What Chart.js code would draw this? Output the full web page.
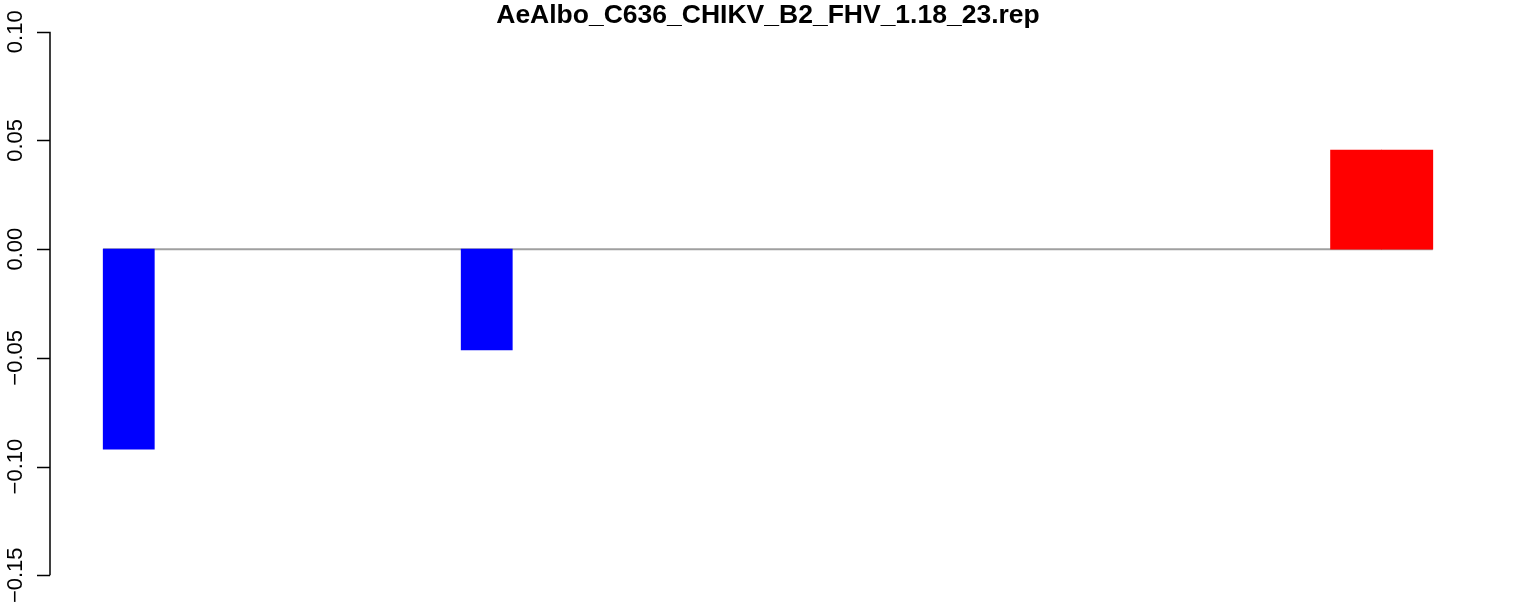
<!DOCTYPE html>
<html>
<head>
<meta charset="utf-8">
<script src="https://cdn.jsdelivr.net/npm/chart.js@4"></script>
<style>
  html, body { margin: 0; padding: 0; background: #ffffff; }
  #chart { display: block; }
</style>
</head>
<body>
<canvas id="chart" width="1536" height="609"></canvas>
<script>
// chart data
var chartTitle = "AeAlbo_C636_CHIKV_B2_FHV_1.18_23.rep";
var categories = ["1","2","3","4","5","6","7","8","9","10","11","12","13",
                  "14","15","16","17","18","19","20","21","22","23","24","25","26"];
var values = [-0.092, 0, 0, 0, 0, 0, 0, -0.0464, 0, 0, 0, 0, 0,
              0, 0, 0, 0, 0, 0, 0, 0, 0, 0, 0, 0.0456, 0.0456];
var yTicks = [-0.15, -0.10, -0.05, 0.00, 0.05, 0.10];
var yTickLabels = ["\u22120.15", "\u22120.10", "\u22120.05", "0.00", "0.05", "0.10"];

var FONT = "'Liberation Sans', Arial, Helvetica, sans-serif";

// bars: blue below zero, red above, nothing for zero
var barColors = values.map(function (v) {
    if (v === 0) return "rgba(0,0,0,0)";
    return v < 0 ? "#0000ff" : "#ff0000";
});
var barPoints = values.map(function (v, i) { return { x: i + 0.5, y: v }; });

// R-style left axis and title
var rAxis = {
    id: "rAxis",
    afterDraw: function (chart) {
        var ctx = chart.ctx;
        var y = chart.scales.y;
        var x0 = chart.chartArea.left;
        var top = y.getPixelForValue(yTicks[yTicks.length - 1]);
        var bot = y.getPixelForValue(yTicks[0]);
        ctx.save();
        ctx.strokeStyle = "#000000";
        ctx.lineWidth = 1.5;
        ctx.beginPath();
        ctx.moveTo(x0, top);
        ctx.lineTo(x0, bot);
        yTicks.forEach(function (t) {
            var py = Math.round(y.getPixelForValue(t)) + 0.5;
            ctx.moveTo(x0, py);
            ctx.lineTo(x0 - 13, py);
        });
        ctx.stroke();

        ctx.fillStyle = "#000000";
        ctx.font = "22px " + FONT;
        ctx.textAlign = "center";
        ctx.textBaseline = "alphabetic";
        yTicks.forEach(function (t, i) {
            var py = y.getPixelForValue(t);
            ctx.save();
            ctx.translate(x0 - 28, py);
            ctx.rotate(-Math.PI / 2);
            ctx.fillText(yTickLabels[i], 0, 0);
            ctx.restore();
        });

        ctx.font = "bold 26.5px " + FONT;
        ctx.fillText(chartTitle, (chart.chartArea.left + chart.chartArea.right) / 2, 23);
        ctx.restore();
    }
};

new Chart(document.getElementById("chart"), {
    type: "bar",
    data: {
        labels: categories,
        datasets: [{
            label: "values",
            data: barPoints,
            backgroundColor: barColors,
            borderWidth: 0,
            barPercentage: 1.0,
            categoryPercentage: 1.0,
            order: 1
        }, {
            type: "line",
            label: "zero",
            data: [{ x: 0, y: 0 }, { x: categories.length, y: 0 }],
            borderColor: "#a0a0a0",
            borderWidth: 2,
            pointRadius: 0,
            fill: false,
            order: 2
        }]
    },
    options: {
        responsive: false,
        animation: false,
        devicePixelRatio: 1,
        layout: { padding: { left: 50, right: 50, top: 10, bottom: 12 } },
        plugins: {
            legend: { display: false },
            tooltip: { enabled: false },
            title: { display: false }
        },
        scales: {
            x: {
                type: "linear",
                offset: false,
                min: -1.04,
                max: categories.length + 1.04,
                display: false
            },
            y: {
                min: -0.16,
                max: 0.11,
                display: false
            }
        }
    },
    plugins: [rAxis]
});
</script>
</body>
</html>
